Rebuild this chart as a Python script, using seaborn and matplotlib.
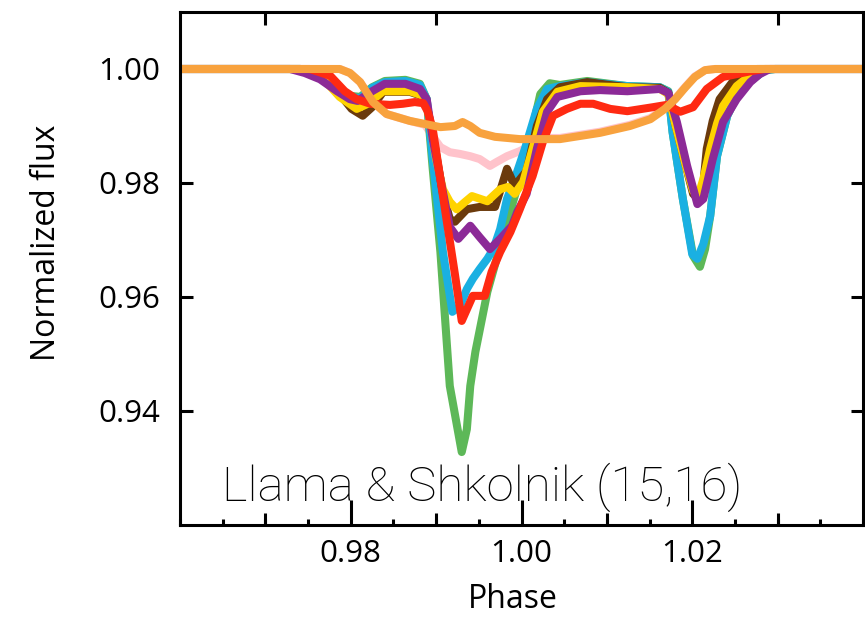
import numpy as np
import pandas as pd
import matplotlib
matplotlib.use("Agg")
import matplotlib.pyplot as plt
from matplotlib.ticker import MultipleLocator, NullLocator, FixedLocator
import seaborn as sns

# ---------------- data ----------------
pink_x = [0.96, 0.9787, 0.9799, 0.9811, 0.9826, 0.9842, 0.9869, 0.9887, 0.9896, 0.9905, 0.9916, 0.9928,
          0.9940, 0.9951, 0.9963, 0.9971, 0.9983, 0.9998, 1.0010, 1.0028, 1.0045, 1.0092, 1.0127, 1.0151,
          1.0168, 1.0180, 1.0192, 1.0203, 1.0215, 1.0227, 1.04]
pink_y = [1.0, 1.0, 0.9993, 0.9977, 0.9942, 0.9921, 0.9909, 0.9902, 0.9882, 0.9863, 0.9854, 0.9851,
          0.9847, 0.9842, 0.9830, 0.9837, 0.9847, 0.9856, 0.9865, 0.9879, 0.9879, 0.9890, 0.9902, 0.9914,
          0.9931, 0.9948, 0.9969, 0.9987, 0.9998, 1.0, 1.0]

green_x = [0.96, 0.9741, 0.9764, 0.9784, 0.9799, 0.9811, 0.9825, 0.9840, 0.9864, 0.9881, 0.9889, 0.9896,
           0.9905, 0.9916, 0.9930, 0.9936, 0.9940, 0.9946, 0.9960, 0.9975, 0.9986, 0.9998, 1.0010, 1.0022,
           1.0033, 1.0045, 1.0077, 1.0124, 1.0162, 1.0172, 1.0177, 1.0189, 1.0201, 1.0209, 1.0215, 1.0221,
           1.0229, 1.0241, 1.0256, 1.0276, 1.0285, 1.0297, 1.04]
green_y = [1.0, 1.0, 0.9995, 0.9970, 0.9953, 0.9951, 0.9968, 0.9979, 0.9981, 0.9974, 0.9947, 0.9825,
           0.9679, 0.9444, 0.9328, 0.9368, 0.9444, 0.9504, 0.9609, 0.9689, 0.9746, 0.9807, 0.9877, 0.9956,
           0.9975, 0.9972, 0.9979, 0.9970, 0.9968, 0.9961, 0.9889, 0.9772, 0.9672, 0.9653, 0.9684, 0.9742,
           0.9847, 0.9918, 0.9965, 0.9988, 0.9998, 1.0, 1.0]

cyan_x = [0.96, 0.9741, 0.9764, 0.9784, 0.9799, 0.9811, 0.9825, 0.9840, 0.9864, 0.9881, 0.9889, 0.9896,
          0.9908, 0.9919, 0.9928, 0.9936, 0.9943, 0.9951, 0.9960, 0.9967, 0.9975, 0.9983, 0.9992, 1.0004,
          1.0018, 1.0030, 1.0045, 1.0077, 1.0124, 1.0162, 1.0172, 1.0177, 1.0189, 1.0200, 1.0206, 1.0213,
          1.0221, 1.0229, 1.0241, 1.0256, 1.0276, 1.0285, 1.0297, 1.04]
cyan_y = [1.0, 1.0, 0.9995, 0.9968, 0.9951, 0.9949, 0.9967, 0.9977, 0.9979, 0.9972, 0.9947, 0.9842,
          0.9679, 0.9574, 0.9584, 0.9614, 0.9632, 0.9649, 0.9667, 0.9684, 0.9719, 0.9772, 0.9807, 0.9860,
          0.9930, 0.9965, 0.9970, 0.9977, 0.9970, 0.9968, 0.9960, 0.9889, 0.9772, 0.9675, 0.9667, 0.9693,
          0.9742, 0.9847, 0.9918, 0.9965, 0.9988, 0.9998, 1.0, 1.0]

brown_x = [0.96, 0.9741, 0.9764, 0.9787, 0.9801, 0.9814, 0.9825, 0.9838, 0.9869, 0.9883, 0.9890, 0.9899,
           0.9908, 0.9916, 0.9922, 0.9936, 0.9951, 0.9969, 0.9975, 0.9983, 0.9992, 1.0006, 1.0018, 1.0030,
           1.0045, 1.0077, 1.0124, 1.0162, 1.0172, 1.0180, 1.0192, 1.0201, 1.0207, 1.0213, 1.0217, 1.0224,
           1.0232, 1.0248, 1.0264, 1.0276, 1.04]
brown_y = [1.0, 1.0, 0.9991, 0.9956, 0.9930, 0.9918, 0.9933, 0.9960, 0.9960, 0.9953, 0.9930, 0.9860,
           0.9781, 0.9737, 0.9732, 0.9754, 0.9758, 0.9758, 0.9786, 0.9825, 0.9795, 0.9821, 0.9900, 0.9947,
           0.9968, 0.9977, 0.9968, 0.9967, 0.9958, 0.9904, 0.9833, 0.9781, 0.9772, 0.9798, 0.9860, 0.9909,
           0.9947, 0.9979, 0.9993, 1.0, 1.0]

yellow_x = [0.96, 0.9741, 0.9764, 0.9787, 0.9807, 0.9820, 0.9838, 0.9869, 0.9883, 0.9890, 0.9900, 0.9908,
            0.9916, 0.9924, 0.9934, 0.9942, 0.9960, 0.9975, 0.9984, 0.9992, 1.0002, 1.0013, 1.0025, 1.0042,
            1.0069, 1.0124, 1.0162, 1.0172, 1.0180, 1.0192, 1.0201, 1.0207, 1.0213, 1.0221, 1.0229, 1.0236,
            1.0252, 1.0268, 1.0279, 1.04]
yellow_y = [1.0, 1.0, 0.9989, 0.9951, 0.9930, 0.9939, 0.9961, 0.9961, 0.9954, 0.9930, 0.9842, 0.9789,
            0.9767, 0.9754, 0.9767, 0.9777, 0.9768, 0.9789, 0.9793, 0.9781, 0.9802, 0.9860, 0.9925, 0.9960,
            0.9970, 0.9968, 0.9965, 0.9956, 0.9904, 0.9833, 0.9786, 0.9777, 0.9807, 0.9860, 0.9904, 0.9935,
            0.9970, 0.9989, 1.0, 1.0]

purple_x = [0.96, 0.9729, 0.9746, 0.9764, 0.9784, 0.9799, 0.9808, 0.9825, 0.9840, 0.9864, 0.9881, 0.9889,
            0.9896, 0.9905, 0.9916, 0.9926, 0.9940, 0.9951, 0.9963, 0.9975, 0.9989, 0.9995, 1.0006, 1.0018,
            1.0030, 1.0042, 1.0069, 1.0092, 1.0124, 1.0162, 1.0172, 1.0182, 1.0194, 1.0206, 1.0213, 1.0224,
            1.0236, 1.0252, 1.0268, 1.0279, 1.0291, 1.04]
purple_y = [1.0, 1.0, 0.9993, 0.9982, 0.9961, 0.9947, 0.9944, 0.9961, 0.9974, 0.9974, 0.9965, 0.9947,
            0.9877, 0.9807, 0.9723, 0.9702, 0.9725, 0.9705, 0.9684, 0.9702, 0.9725, 0.9749, 0.9781, 0.9860,
            0.9925, 0.9951, 0.9961, 0.9963, 0.9961, 0.9965, 0.9958, 0.9907, 0.9830, 0.9763, 0.9772, 0.9842,
            0.9907, 0.9947, 0.9977, 0.9991, 1.0, 1.0]

red_x = [0.96, 0.9752, 0.9776, 0.9793, 0.9807, 0.9823, 0.9846, 0.9861, 0.9875, 0.9885, 0.9890, 0.9896,
         0.9905, 0.9913, 0.9922, 0.9930, 0.9943, 0.9957, 0.9965, 0.9975, 0.9987, 0.9998, 1.0013, 1.0025,
         1.0037, 1.0053, 1.0069, 1.0084, 1.0104, 1.0124, 1.0154, 1.0170, 1.0186, 1.0201, 1.0209, 1.0217,
         1.0236, 1.0252, 1.0268, 1.0285, 1.04]
red_y = [1.0, 1.0, 0.9988, 0.9961, 0.9947, 0.9939, 0.9937, 0.9939, 0.9942, 0.9940, 0.9926, 0.9895,
         0.9807, 0.9728, 0.9640, 0.9558, 0.9602, 0.9602, 0.9644, 0.9679, 0.9714, 0.9754, 0.9812, 0.9872,
         0.9918, 0.9930, 0.9939, 0.9939, 0.9930, 0.9926, 0.9933, 0.9937, 0.9925, 0.9933, 0.9949, 0.9965,
         0.9986, 0.9991, 0.9996, 1.0, 1.0]

orange_x = [0.96, 0.9787, 0.9799, 0.9811, 0.9826, 0.9842, 0.9869, 0.9905, 0.9922, 0.9931, 0.9940, 0.9951,
            0.9969, 0.9998, 1.0045, 1.0092, 1.0127, 1.0151, 1.0168, 1.0180, 1.0192, 1.0203, 1.0215, 1.0227,
            1.04]
orange_y = [1.0, 1.0, 0.9993, 0.9977, 0.9942, 0.9921, 0.9909, 0.9898, 0.9900, 0.9907, 0.9900, 0.9888,
            0.9881, 0.9877, 0.9877, 0.9888, 0.9900, 0.9912, 0.9930, 0.9947, 0.9968, 0.9986, 0.9998, 1.0,
            1.0]

series_names = ["pink", "green", "cyan", "brown", "yellow", "purple", "red", "orange"]
series_x = [pink_x, green_x, cyan_x, brown_x, yellow_x, purple_x, red_x, orange_x]
series_y = [pink_y, green_y, cyan_y, brown_y, yellow_y, purple_y, red_y, orange_y]
colors = ["#ffc3cb", "#5db858", "#1ab0e2", "#6b3a0c", "#ffd300", "#8c2a97", "#ff2a12", "#f8a23e"]

x_major = [0.98, 1.00, 1.02]
x_major_labels = ["0.98", "1.00", "1.02"]
x_mid = [0.97, 0.99, 1.01, 1.03]
y_major = [0.94, 0.96, 0.98, 1.00]
y_major_labels = ["0.94", "0.96", "0.98", "1.00"]

# ---------------- figure ----------------
sns.set_style("white")
plt.rcParams["font.family"] = ["Open Sans", "DejaVu Sans"]
plt.rcParams["text.color"] = "black"
plt.rcParams["axes.labelcolor"] = "black"
plt.rcParams["xtick.color"] = "black"
plt.rcParams["ytick.color"] = "black"

fig = plt.figure(figsize=(8.65, 6.17), dpi=100)
ax = fig.add_axes([180 / 865, 1 - 525 / 617, 683 / 865, 513 / 617])

for name, xs, ys, c in zip(series_names, series_x, series_y, colors):
    df = pd.DataFrame({"Phase": xs, "Flux": ys})
    sns.lineplot(data=df, x="Phase", y="Flux", color=c, lw=5.8, ax=ax,
                 estimator=None, sort=False, solid_capstyle="round", solid_joinstyle="round")

ax.set_xlim(0.96, 1.04)
ax.set_ylim(0.92, 1.01)

for s in ax.spines.values():
    s.set_visible(True)
    s.set_linewidth(2.2)
    s.set_color("black")

ax.xaxis.set_major_locator(FixedLocator(x_major))
ax.set_xticklabels(x_major_labels)
ax.xaxis.set_minor_locator(MultipleLocator(0.005))
ax.yaxis.set_major_locator(FixedLocator(y_major))
ax.set_yticklabels(y_major_labels)
ax.yaxis.set_minor_locator(NullLocator())

ax.tick_params(axis="x", which="major", direction="in", top=True, bottom=True,
               length=18, width=2.2, pad=10, labelsize=22.5, color="black", labelcolor="black")
ax.tick_params(axis="x", which="minor", direction="in", top=True, bottom=True,
               length=4.5, width=2.2, color="black")
ax.tick_params(axis="y", which="major", direction="in", left=True, right=True,
               length=9, width=2.2, pad=14, labelsize=22.5, color="black", labelcolor="black")

tw = ax.twiny()
tw.set_xlim(0.96, 1.04)
tw.xaxis.set_major_locator(FixedLocator(x_mid))
tw.xaxis.set_minor_locator(NullLocator())
tw.tick_params(axis="x", which="major", direction="in", top=True, bottom=True,
               labeltop=False, labelbottom=False, length=9, width=2.2, color="black")
for s in tw.spines.values():
    s.set_visible(False)

ax.set_xlabel("Phase", fontsize=23, color="black")
ax.set_ylabel("Normalized flux", fontsize=23, color="black")
ax.xaxis.set_label_coords((513 - 180) / 683, -0.114)
ax.yaxis.set_label_coords(-0.172, 0.55)

ax.text(0.9649, 0.9242, "Llama & Shkolnik (15,16)", fontsize=35.5,
        family=["Roboto", "DejaVu Sans"], fontweight="light",
        ha="left", va="baseline", color="black")

fig.savefig("out.png", dpi=100)
